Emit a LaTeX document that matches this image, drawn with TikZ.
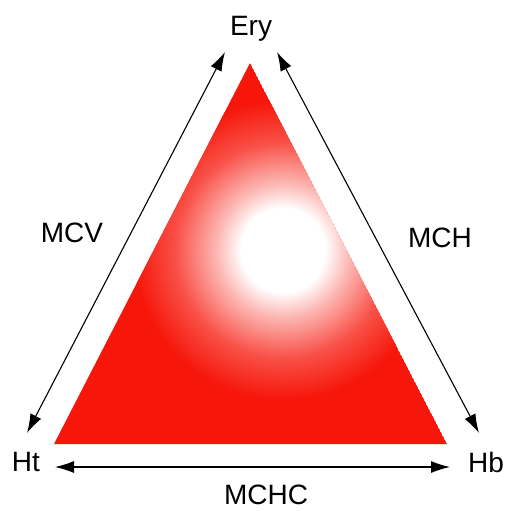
\documentclass[tikz,border=0pt]{standalone}
\usepackage{fontspec}
\setmainfont{Liberation Sans}
\usetikzlibrary{arrows.meta}
\definecolor{rbcred}{RGB}{246,22,10}
\pgfdeclareradialshading{glow}{\pgfpoint{0bp}{0bp}}{%
  color(0bp)=(white); color(7bp)=(white); color(11bp)=(rbcred!30!white);
  color(18bp)=(rbcred!75!white); color(25bp)=(rbcred); color(50bp)=(rbcred)}
\tikzset{
  lbl/.style={font=\fontsize{28}{32}\selectfont, inner sep=0pt, text=black},
  dbl/.style={line width=1.1pt, {Latex[length=19pt,width=12pt]}-{Latex[length=19pt,width=12pt]}}
}
\begin{document}
\begin{tikzpicture}[x=1pt,y=-1pt]
\useasboundingbox (0,0) rectangle (504,511);
\fill[white] (0,0) rectangle (504,511);
% triangle
\coordinate (apex) at (250,63);
\coordinate (bl) at (54,444);
\coordinate (br) at (447,444);
\begin{scope}
  \clip (apex) -- (bl) -- (br) -- cycle;
  \fill[rbcred] (apex) -- (bl) -- (br) -- cycle;
  \shade[shading=glow] (283,250) circle (150);
\end{scope}
% labels
\node[lbl] (ery) at (251,29) {Ery};
\node[lbl] (ht) at (26,462) {Ht};
\node[lbl] (hb) at (486,462) {Hb};
\node[lbl] (mcv) at (72,233) {MCV};
\node[lbl] (mch) at (440,238) {MCH};
\node[lbl] (mchc) at (266,495) {MCHC};
% arrow ends
\coordinate (lA) at (27,433);
\coordinate (lB) at (225,52);
\coordinate (rA) at (277,52);
\coordinate (rB) at (479,433);
\coordinate (bA) at (55,467);
\coordinate (bB) at (450,467);
\draw[dbl] (lA) -- (lB);
\draw[dbl] (rA) -- (rB);
\draw[dbl] (bA) -- (bB);
\end{tikzpicture}
\end{document}
